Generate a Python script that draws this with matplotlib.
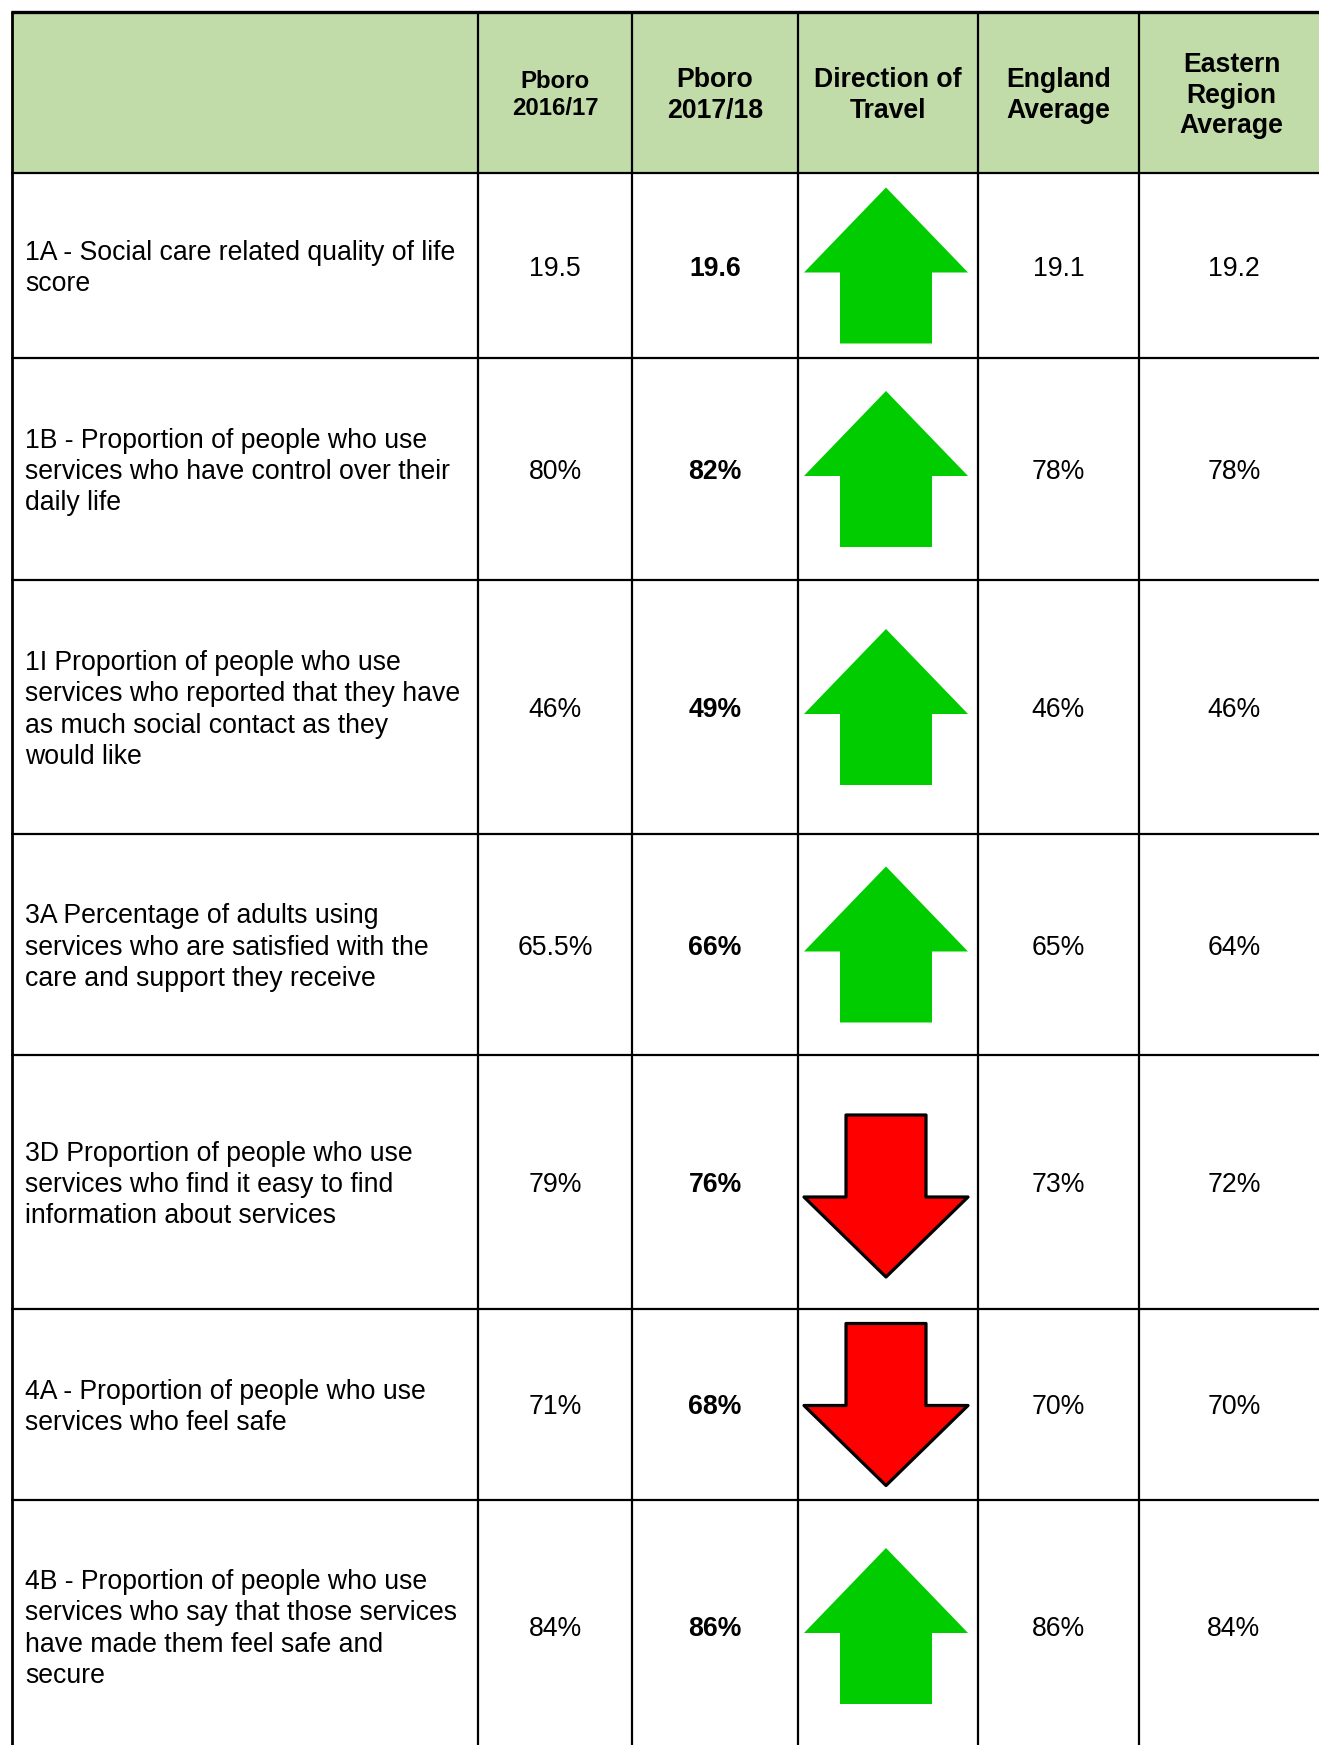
import matplotlib
matplotlib.use("Agg")
import matplotlib.pyplot as plt
from matplotlib.patches import Polygon, Rectangle

plt.rcParams['font.family'] = ['Liberation Sans', 'DejaVu Sans']

# ---------------- data ----------------
headers = ["", "Pboro\n2016/17", "Pboro\n2017/18", "Direction of\nTravel",
           "England\nAverage", "Eastern\nRegion\nAverage"]
labels = [
    "1A - Social care related quality of life\nscore",
    "1B - Proportion of people who use\nservices who have control over their\ndaily life",
    "1I Proportion of people who use\nservices who reported that they have\nas much social contact as they\nwould like",
    "3A Percentage of adults using\nservices who are satisfied with the\ncare and support they receive",
    "3D Proportion of people who use\nservices who find it easy to find\ninformation about services",
    "4A - Proportion of people who use\nservices who feel safe",
    "4B - Proportion of people who use\nservices who say that those services\nhave made them feel safe and\nsecure",
]
is_percent = [False, True, True, True, True, True, True]
pboro_1617 = [19.5, 80, 46, 65.5, 79, 71, 84]
pboro_1718 = [19.6, 82, 49, 66, 76, 68, 86]
england_avg = [19.1, 78, 46, 65, 73, 70, 86]
eastern_avg = [19.2, 78, 46, 64, 72, 70, 84]

# ---------------- layout ----------------
W, H = 1319, 1745
col_x = [12, 478, 632, 798, 978, 1139, 1330]
row_y = [12, 173, 358, 580, 834, 1055, 1309, 1500, 1752]
arrow_dy = [0, 0, 0, 0, 14, 0, 0]
header_bg = "#c1dca9"
green = "#00cc00"
red = "#ff0000"
fs_body = 19.2
line_px = 31.2


def fmt(v, pct):
    s = ("%g" % v)
    if not pct and "." not in s:
        s = s + ".0"
    return s + ("%" if pct else "")


fig = plt.figure(figsize=(W / 100, H / 100), dpi=100)
ax = fig.add_axes([0, 0, 1, 1])
ax.set_xlim(0, W)
ax.set_ylim(H, 0)
ax.axis("off")

# header background
ax.add_patch(Rectangle((col_x[0], row_y[0]), W - col_x[0], row_y[1] - row_y[0],
                       facecolor=header_bg, edgecolor="none", zorder=0))


def put_lines(text, x, yc, ha, size, weight, spacing):
    lines = text.split("\n")
    n = len(lines)
    for i, ln in enumerate(lines):
        y = yc + (i - (n - 1) / 2) * spacing
        ax.text(x, y, ln, ha=ha, va="center_baseline", fontsize=size,
                fontweight=weight, color="black", zorder=5)


# header text
for j, h in enumerate(headers):
    if not h:
        continue
    xc = (col_x[j] + col_x[j + 1]) / 2
    if j == len(headers) - 1:
        xc = (col_x[j] + 1372) / 2 - 24
    yc = (row_y[0] + row_y[1]) / 2
    size = 17.3 if j == 1 else 19.2
    sp = 27 if j == 1 else 30.5
    put_lines(h, xc, yc, "center", size, "bold", sp)

# body
for i, lab in enumerate(labels):
    y0, y1 = row_y[i + 1], row_y[i + 2]
    yc = (y0 + y1) / 2
    if i == len(labels) - 1:
        yc = 1626
    put_lines(lab, col_x[0] + 13, yc, "left", fs_body, "normal", line_px)
    vals = [pboro_1617[i], pboro_1718[i], None, england_avg[i], eastern_avg[i]]
    for j, v in enumerate(vals):
        if v is None:
            continue
        c = j + 1
        xc = (col_x[c] + col_x[c + 1]) / 2
        if c == 5:
            xc = 1234
        ax.text(xc, yc, fmt(v, is_percent[i]), ha="center", va="center_baseline",
                fontsize=fs_body, fontweight="bold" if j == 1 else "normal", zorder=5)
    # arrow
    xc = (col_x[3] + col_x[4]) / 2 - 2
    ya = yc + arrow_dy[i]
    if pboro_1718[i] > pboro_1617[i]:
        hw, sw, tot, hh = 164, 92, 156, 85
        top = ya - tot / 2
        pts = [(xc, top), (xc + hw / 2, top + hh), (xc + sw / 2, top + hh),
               (xc + sw / 2, top + tot), (xc - sw / 2, top + tot),
               (xc - sw / 2, top + hh), (xc - hw / 2, top + hh)]
        ax.add_patch(Polygon(pts, closed=True, facecolor=green, edgecolor="none", zorder=3))
    else:
        hw, sw, tot, hh = 164, 80, 162, 80
        top = ya - tot / 2
        bot = top + tot
        pts = [(xc - sw / 2, top), (xc + sw / 2, top), (xc + sw / 2, bot - hh),
               (xc + hw / 2, bot - hh), (xc, bot), (xc - hw / 2, bot - hh),
               (xc - sw / 2, bot - hh)]
        ax.add_patch(Polygon(pts, closed=True, facecolor=red, edgecolor="black",
                             linewidth=2.3, joinstyle="round", zorder=3))

# grid lines
for k, y in enumerate(row_y[:-1]):
    ax.plot([col_x[0] - 1, W], [y, y], color="black",
            linewidth=2.4 if k == 0 else 1.6, solid_capstyle="butt", zorder=6)
for k, x in enumerate(col_x[:-1]):
    ax.plot([x, x], [row_y[0] - 1, H], color="black",
            linewidth=2.0 if k == 0 else 1.6, solid_capstyle="butt", zorder=6)

fig.savefig("out.png", dpi=100, facecolor="white")
